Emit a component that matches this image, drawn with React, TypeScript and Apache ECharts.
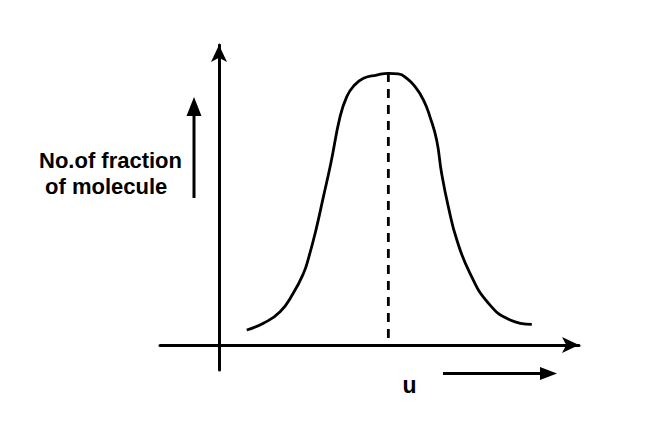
import React, { useEffect, useRef } from "react";
import * as echarts from "echarts";

// Speed axis (u) and fraction of molecules, arbitrary units
const curveU = [0.78, 1.25, 1.72, 2.09, 2.38, 2.52, 2.73, 2.94, 3.15, 3.41, 3.6, 3.78, 4.07, 4.44, 4.77, 5.05, 5.29, 5.52, 5.76, 5.94, 6.13, 6.27, 6.46, 6.7, 7.07, 7.59, 8.2, 8.81];
const curveF = [0.51, 0.74, 1.13, 1.76, 2.44, 2.95, 3.91, 5.04, 6.18, 7.77, 8.45, 8.79, 9.07, 9.18, 9.24, 9.22, 9.07, 8.79, 8.33, 7.77, 6.97, 5.84, 4.7, 3.57, 2.44, 1.42, 0.85, 0.7];
const peakU = [4.77, 4.77];
const peakF = [0.24, 9.24];
const yLabelLines = ["No.of fraction", "of molecule"];
const xLabel = "u";

export default function App() {
  const ref = useRef<HTMLDivElement>(null);
  useEffect(() => {
    if (!ref.current) return;
    const chart = echarts.init(ref.current, null, { renderer: "svg" });
    const font = '"Liberation Sans", Arial, sans-serif';
    chart.setOption({
      animation: false,
      backgroundColor: "#ffffff",
      grid: { left: 160, right: 70, top: 45, bottom: 72 },
      xAxis: {
        type: "value",
        min: -1.662,
        max: 10.14,
        axisLine: {
          onZero: true,
          lineStyle: { color: "#000", width: 3 },
          symbol: ["none", "arrow"],
          symbolSize: [12, 17],
        },
        axisTick: { show: false },
        axisLabel: { show: false },
        splitLine: { show: false },
      },
      yAxis: {
        type: "value",
        min: -0.85,
        max: 10.204,
        axisLine: {
          show: true,
          onZero: true,
          lineStyle: { color: "#000", width: 3 },
          symbol: ["none", "arrow"],
          symbolSize: [12, 17],
        },
        axisTick: { show: false },
        axisLabel: { show: false },
        splitLine: { show: false },
      },
      series: [
        {
          type: "line",
          data: curveU.map((u, i) => [u, curveF[i]]),
          smooth: 0.5,
          showSymbol: false,
          lineStyle: { color: "#000", width: 2.8 },
        },
        {
          type: "line",
          data: peakU.map((u, i) => [u, peakF[i]]),
          showSymbol: false,
          lineStyle: { color: "#000", width: 2.8, type: [9, 7] },
        },
      ],
      graphic: [
        {
          type: "text",
          x: 39,
          y: 160,
          style: { text: yLabelLines[0], font: `bold 22px ${font}`, fill: "#000", textAlign: "left", textVerticalAlign: "middle" },
        },
        {
          type: "text",
          x: 45,
          y: 186,
          style: { text: yLabelLines[1], font: `bold 22px ${font}`, fill: "#000", textAlign: "left", textVerticalAlign: "middle" },
        },
        {
          type: "line",
          shape: { x1: 194, y1: 198, x2: 194, y2: 112 },
          style: { stroke: "#000", lineWidth: 3 },
        },
        {
          type: "polygon",
          shape: { points: [[194, 97], [186.5, 116], [201.5, 116]] },
          style: { fill: "#000" },
        },
        {
          type: "text",
          x: 409.5,
          y: 385,
          style: { text: xLabel, font: `bold 23px ${font}`, fill: "#000", textAlign: "center", textVerticalAlign: "middle" },
        },
        {
          type: "line",
          shape: { x1: 443, y1: 373.5, x2: 544, y2: 373.5 },
          style: { stroke: "#000", lineWidth: 3 },
        },
        {
          type: "polygon",
          shape: { points: [[557, 373.5], [540, 367], [540, 380]] },
          style: { fill: "#000" },
        },
      ],
    });
    return () => chart.dispose();
  }, []);
  return <div ref={ref} style={{ position: "absolute", left: 0, top: 0, width: 649, height: 442 }} />;
}
